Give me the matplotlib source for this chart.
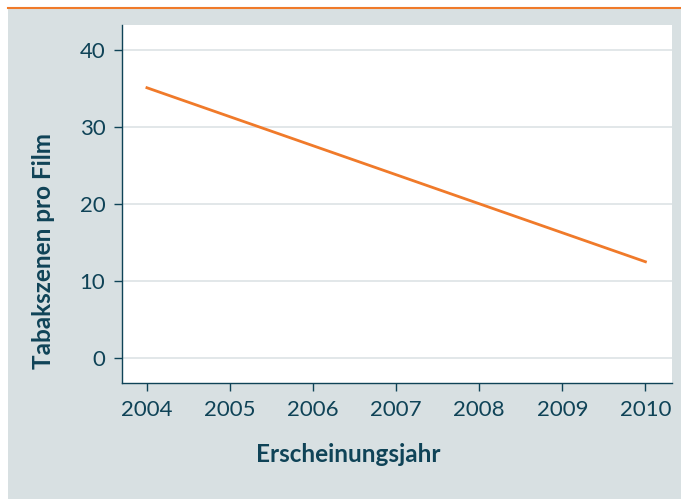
import matplotlib.pyplot as plt
from matplotlib.patches import Rectangle
from matplotlib.lines import Line2D

# data (trend line, start and end)
years = [2004, 2010]
scenes = [35.1, 12.5]

yticks = [0, 10, 20, 30, 40]
xticks = [2004, 2005, 2006, 2007, 2008, 2009, 2010]

teal = '#0f4357'
orange = '#f07a2a'
panel = '#d8e0e2'

plt.rcParams['font.family'] = ['Lato', 'DejaVu Sans']

fig = plt.figure(figsize=(6.81, 4.99), dpi=100)
fig.patch.set_facecolor('white')

# grey panel with orange rule on top
fig.patches.append(Rectangle((8 / 681, 0), 1, 491 / 499, transform=fig.transFigure,
                             facecolor=panel, edgecolor='none', zorder=-10))
fig.lines.append(Line2D([8 / 681, 1], [491 / 499, 491 / 499], transform=fig.transFigure,
                        color=orange, linewidth=1.5, zorder=-9))

ax = fig.add_axes([122 / 681, 116 / 499, 550 / 681, 358 / 499])
ax.set_zorder(1)
ax.set_facecolor('white')

ax.plot(years, scenes, color=orange, linewidth=2)

ax.set_xlim(2003.7, 2010.32)
ax.set_ylim(-3.25, 43.25)
ax.set_xticks(xticks)
ax.set_yticks(yticks)
ax.set_xticklabels([str(x) for x in xticks])
ax.grid(axis='y', color='#dde3e5', linewidth=1.2)
ax.set_axisbelow(True)

for side in ['top', 'right']:
    ax.spines[side].set_visible(False)
for side in ['left', 'bottom']:
    ax.spines[side].set_color(teal)
    ax.spines[side].set_linewidth(1)

ax.tick_params(colors=teal, labelsize=16, length=6, width=1, pad=6)

# labels are centred on the grey panel, not on the plot area
ax.set_xlabel('Erscheinungsjahr', fontsize=17.5, fontweight='bold', color=teal, va='center')
ax.xaxis.set_label_coords(0.411, -0.201)
ax.set_ylabel('Tabakszenen pro Film', fontsize=17.5, fontweight='bold', color=teal, va='center')
ax.yaxis.set_label_coords(-0.1436, 0.369)

fig.savefig('out.png', dpi=100)
